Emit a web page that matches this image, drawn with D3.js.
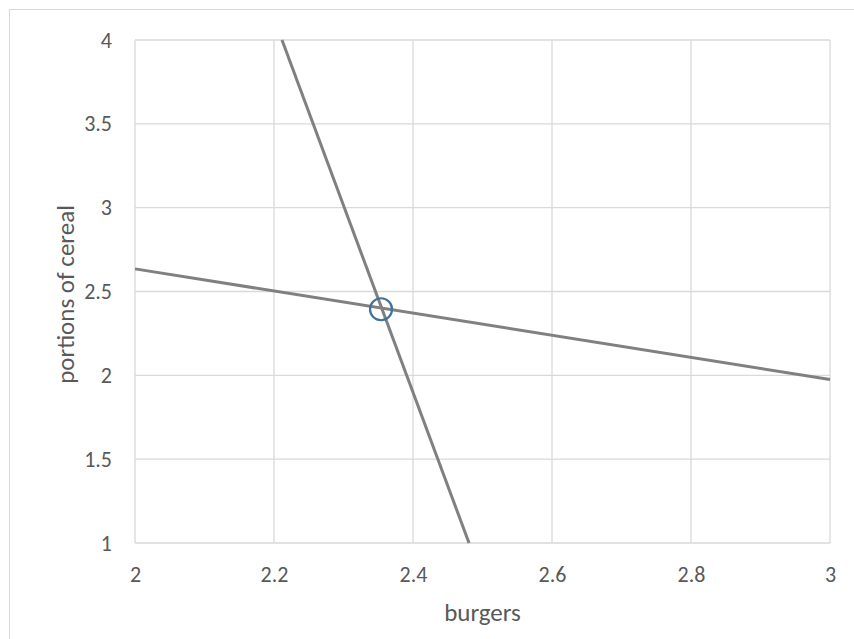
<!DOCTYPE html>
<html>
<head>
<meta charset="utf-8">
<script src="https://cdn.jsdelivr.net/npm/d3@7"></script>
<style>
  body { margin: 0; background: #fff; }
  svg { display: block; }
</style>
</head>
<body>
<svg id="chart" width="854" height="639"></svg>
<script>
// Data
const xTicks = [2, 2.2, 2.4, 2.6, 2.8, 3];
const yTicks = [1, 1.5, 2, 2.5, 3, 3.5, 4];
const steepLineX = [2.2115, 2.4806];
const steepLineY = [4, 1];
const flatLineX = [2, 3];
const flatLineY = [2.635, 1.975];
const markerX = [2.354];
const markerY = [2.394];
const xTitle = "burgers";
const yTitle = "portions of cereal";

const svg = d3.select("#chart");
const margin = { left: 135, top: 40, right: 830, bottom: 543 };

// outer chart border
svg.append("rect")
  .attr("x", 9.5).attr("y", 9.5)
  .attr("width", 860).attr("height", 660)
  .attr("fill", "#fff").attr("stroke", "#d9d9d9").attr("stroke-width", 1);

const x = d3.scaleLinear().domain([2, 3]).range([margin.left, margin.right]);
const y = d3.scaleLinear().domain([1, 4]).range([margin.bottom, margin.top]);

const fontFam = "Carlito, Calibri, 'Open Sans', 'Liberation Sans', sans-serif";

// gridlines
svg.append("g").selectAll("line.v").data(xTicks).join("line")
  .attr("x1", d => x(d)).attr("x2", d => x(d))
  .attr("y1", margin.top).attr("y2", margin.bottom)
  .attr("stroke", "#d9d9d9").attr("stroke-width", 1.3);
svg.append("g").selectAll("line.h").data(yTicks).join("line")
  .attr("x1", margin.left).attr("x2", margin.right)
  .attr("y1", d => y(d)).attr("y2", d => y(d))
  .attr("stroke", "#d9d9d9").attr("stroke-width", 1.3);

// axes labels via d3 axes
const xAxis = d3.axisBottom(x).tickValues(xTicks).tickSize(0).tickPadding(23).tickFormat(d3.format("~g"));
const gx = svg.append("g").attr("transform", `translate(0,${margin.bottom})`).call(xAxis);
gx.select(".domain").remove();
gx.selectAll("text").attr("fill", "#595959").style("font-size", "22px").style("font-family", fontFam);

const yAxis = d3.axisLeft(y).tickValues(yTicks).tickSize(0).tickPadding(23).tickFormat(d3.format("~g"));
const gy = svg.append("g").attr("transform", `translate(${margin.left},0)`).call(yAxis);
gy.select(".domain").remove();
gy.selectAll("text").attr("fill", "#595959").style("font-size", "22px").style("font-family", fontFam);

// axis titles
svg.append("text")
  .attr("x", (margin.left + margin.right) / 2).attr("y", 621)
  .attr("text-anchor", "middle").attr("fill", "#595959")
  .style("font-size", "25px").style("font-family", fontFam)
  .text(xTitle);
svg.append("text")
  .attr("transform", `translate(74,${(margin.top + margin.bottom) / 2 + 3}) rotate(-90)`)
  .attr("text-anchor", "middle").attr("fill", "#595959")
  .style("font-size", "25px").style("font-family", fontFam)
  .text(yTitle);

// lines
const lineGen = d3.line().x(d => x(d[0])).y(d => y(d[1]));
const steep = steepLineX.map((v, i) => [v, steepLineY[i]]);
const flat = flatLineX.map((v, i) => [v, flatLineY[i]]);
[steep, flat].forEach(pts => {
  svg.append("path").datum(pts).attr("d", lineGen)
    .attr("fill", "none").attr("stroke", "#808080").attr("stroke-width", 3);
});

// marker
svg.append("g").selectAll("circle").data(markerX.map((v, i) => [v, markerY[i]])).join("circle")
  .attr("cx", d => x(d[0])).attr("cy", d => y(d[1])).attr("r", 11)
  .attr("fill", "none").attr("stroke", "#41719c").attr("stroke-width", 2.2);
</script>
</body>
</html>
